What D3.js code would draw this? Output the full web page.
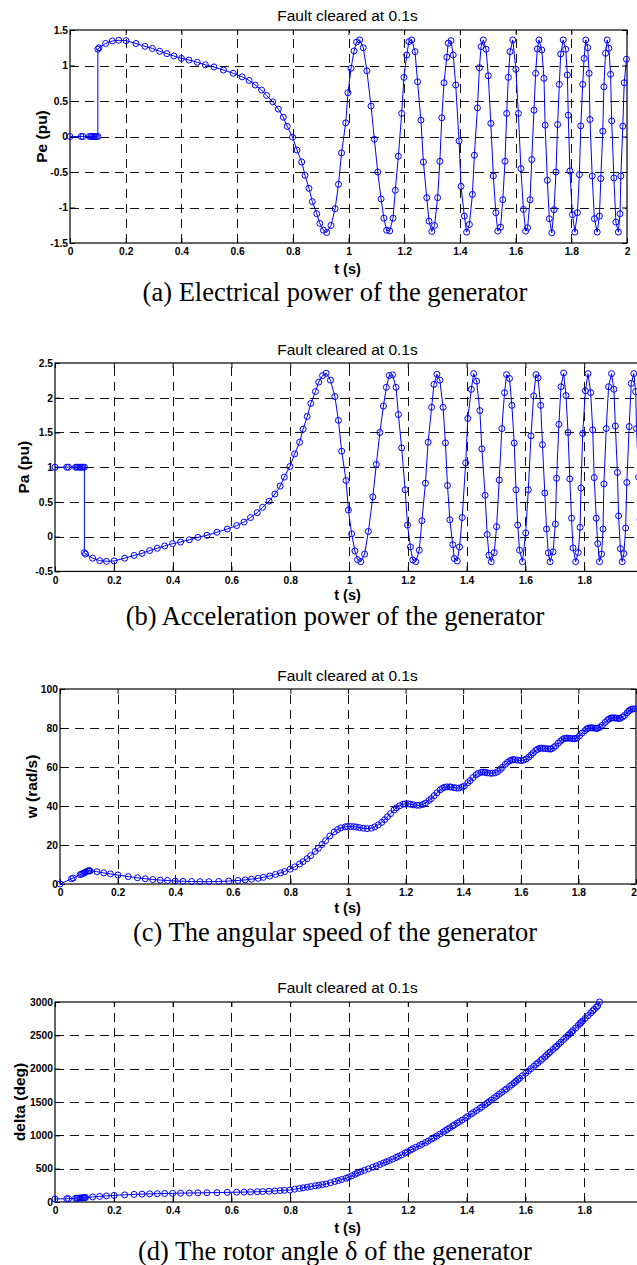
<!DOCTYPE html>
<html>
<head>
<meta charset="utf-8">
<script src="https://cdn.jsdelivr.net/npm/d3@7"></script>
<style>
body { margin: 0; background: #fff; }
svg { display: block; }
</style>
</head>
<body>
<script>
// time samples of the simulation (s), shared by the four plots
var tData = [
  0, 0.04, 0.046, 0.07, 0.075, 0.08, 0.085, 0.09, 0.095, 0.1,
  0.1, 0.104, 0.128, 0.152, 0.175, 0.201, 0.237, 0.269, 0.296, 0.322,
  0.348, 0.373, 0.4, 0.427, 0.457, 0.486, 0.517, 0.551, 0.586, 0.618,
  0.643, 0.665, 0.688, 0.706, 0.728, 0.748, 0.766, 0.78, 0.799, 0.815,
  0.832, 0.844, 0.858, 0.87, 0.886, 0.897, 0.91, 0.922, 0.937, 0.952,
  0.964, 0.975, 0.99, 0.998, 1.009, 1.02, 1.029, 1.04, 1.053, 1.066,
  1.081, 1.093, 1.105, 1.117, 1.127, 1.137, 1.148, 1.16, 1.168, 1.179,
  1.191, 1.199, 1.209, 1.217, 1.227, 1.239, 1.248, 1.26, 1.269, 1.281,
  1.289, 1.299, 1.309, 1.32, 1.328, 1.335, 1.343, 1.353, 1.358, 1.368,
  1.376, 1.385, 1.397, 1.404, 1.416, 1.424, 1.434, 1.445, 1.452, 1.463,
  1.47, 1.476, 1.484, 1.494, 1.502, 1.511, 1.52, 1.529, 1.536, 1.546,
  1.554, 1.562, 1.568, 1.574, 1.58, 1.59, 1.601, 1.61, 1.619, 1.628,
  1.636, 1.643, 1.652, 1.658, 1.666, 1.672, 1.678, 1.684, 1.694, 1.702,
  1.706, 1.714, 1.721, 1.73, 1.738, 1.745, 1.751, 1.757, 1.762, 1.771,
  1.78, 1.786, 1.789, 1.795, 1.804, 1.813, 1.822, 1.829, 1.834, 1.841,
  1.846, 1.852, 1.859, 1.864, 1.867, 1.875, 1.883, 1.893, 1.901, 1.906,
  1.913, 1.917, 1.923, 1.929, 1.935, 1.941, 1.945, 1.953, 1.96, 1.969,
  1.975, 1.978, 1.985, 1.99, 1.998
];

// (a) electrical power Pe (pu)
var peData = [
  0, 0, 0, 0, 0, 0, 0, 0, 0, 0,
  1.23, 1.25, 1.31, 1.345, 1.355, 1.35, 1.31, 1.27, 1.24, 1.2,
  1.167, 1.134, 1.1, 1.077, 1.045, 1.01, 0.98, 0.936, 0.89, 0.84,
  0.79, 0.725, 0.654, 0.578, 0.489, 0.386, 0.271, 0.143, -0.01, -0.19,
  -0.359, -0.547, -0.73, -0.917, -1.088, -1.225, -1.319, -1.352, -1.253, -1.017,
  -0.674, -0.231, 0.192, 0.616, 0.96, 1.205, 1.33, 1.36, 1.251, 0.925,
  0.428, -0.04, -0.5, -0.88, -1.15, -1.32, -1.33, -1.15, -0.758, -0.278,
  0.325, 0.833, 1.148, 1.336, 1.36, 1.195, 0.771, 0.23, -0.359, -0.862,
  -1.192, -1.338, -1.253, -0.862, -0.35, 0.263, 0.757, 1.116, 1.314, 1.35,
  1.148, 0.725, -0.062, -0.702, -1.121, -1.347, -1.239, -0.815, -0.264, 0.404,
  0.969, 1.266, 1.36, 1.229, 0.856, 0.184, -0.556, -1.073, -1.333, -1.277,
  -0.89, -0.349, 0.325, 0.833, 1.195, 1.36, 0.946, 0.325, -0.452, -1.027,
  -1.333, -1.285, -0.89, -0.325, 0.371, 0.89, 1.233, 1.36, 1.219, 0.819,
  0.16, -0.617, -1.158, -1.356, -1.031, -0.5, 0.169, 0.734, 1.162, 1.36,
  1.229, 0.866, 0.3, -0.486, -1.1, -1.347, -1.073, -0.537, 0.15, 0.734,
  1.1, 1.36, 1.251, 0.89, 0.24, -0.556, -1.158, -1.347, -1.121, -0.593,
  0.075, 0.7, 1.172, 1.36, 1.243, 0.876, 0.22, -0.585, -1.206, -1.347,
  -1.088, -0.556, 0.145, 0.757, 1.088
];

// (b) acceleration power Pa (pu)
var paData = [
  1, 1, 1, 1, 1, 1, 1, 1, 1, 1,
  -0.23, -0.25, -0.31, -0.345, -0.355, -0.35, -0.31, -0.27, -0.24, -0.2,
  -0.167, -0.134, -0.1, -0.077, -0.045, -0.01, 0.02, 0.064, 0.11, 0.16,
  0.21, 0.275, 0.346, 0.422, 0.511, 0.614, 0.729, 0.857, 1.01, 1.19,
  1.359, 1.547, 1.73, 1.917, 2.088, 2.225, 2.319, 2.352, 2.253, 2.017,
  1.674, 1.231, 0.808, 0.384, 0.04, -0.205, -0.33, -0.36, -0.251, 0.075,
  0.572, 1.04, 1.5, 1.88, 2.15, 2.32, 2.33, 2.15, 1.758, 1.278,
  0.675, 0.167, -0.148, -0.336, -0.36, -0.195, 0.229, 0.77, 1.359, 1.862,
  2.192, 2.338, 2.253, 1.862, 1.35, 0.737, 0.243, -0.116, -0.314, -0.35,
  -0.148, 0.275, 1.062, 1.702, 2.121, 2.347, 2.239, 1.815, 1.264, 0.596,
  0.031, -0.266, -0.36, -0.229, 0.144, 0.816, 1.556, 2.073, 2.333, 2.277,
  1.89, 1.349, 0.675, 0.167, -0.195, -0.36, 0.054, 0.675, 1.452, 2.027,
  2.333, 2.285, 1.89, 1.325, 0.629, 0.11, -0.233, -0.36, -0.219, 0.181,
  0.84, 1.617, 2.158, 2.356, 2.031, 1.5, 0.831, 0.266, -0.162, -0.36,
  -0.229, 0.134, 0.7, 1.486, 2.1, 2.347, 2.073, 1.537, 0.85, 0.266,
  -0.1, -0.36, -0.251, 0.11, 0.76, 1.556, 2.158, 2.347, 2.121, 1.593,
  0.925, 0.3, -0.172, -0.36, -0.243, 0.124, 0.78, 1.585, 2.206, 2.347,
  2.088, 1.556, 0.855, 0.243, -0.088
];

// (c) angular speed w (rad/s)
var wData = [
  0, 2.7, 3.1, 4.8, 5.1, 5.4, 5.8, 6.1, 6.5, 6.8,
  6.8, 6.7, 6.3, 5.7, 5.2, 4.6, 3.8, 3.2, 2.7, 2.3,
  2.0, 1.8, 1.5, 1.4, 1.3, 1.2, 1.2, 1.3, 1.5, 1.8,
  2.1, 2.5, 2.9, 3.4, 4.1, 4.9, 5.7, 6.4, 7.6, 8.8,
  10.3, 11.5, 13.0, 14.5, 16.7, 18.3, 20.3, 22.2, 24.6, 26.7,
  27.9, 28.8, 29.3, 29.5, 29.5, 29.4, 29.2, 28.9, 28.6, 28.4,
  28.6, 29.3, 30.3, 31.6, 33.0, 34.5, 36.1, 38.0, 39.0, 40.1,
  40.9, 41.1, 41.1, 40.9, 40.6, 40.4, 40.4, 40.8, 41.5, 42.8,
  43.8, 45.3, 46.8, 48.3, 49.1, 49.6, 49.8, 49.8, 49.7, 49.4,
  49.2, 49.2, 49.7, 50.3, 51.9, 53.0, 54.6, 56.0, 56.7, 57.3,
  57.4, 57.3, 57.0, 56.8, 56.8, 57.0, 57.7, 58.8, 59.8, 61.3,
  62.4, 63.2, 63.6, 63.8, 63.7, 63.5, 63.3, 63.5, 64.1, 65.1,
  66.2, 67.3, 68.5, 69.1, 69.6, 69.7, 69.6, 69.5, 69.3, 69.2,
  69.3, 70.0, 70.8, 72.2, 73.3, 74.1, 74.6, 74.8, 74.8, 74.7,
  74.5, 74.5, 74.6, 74.9, 76.0, 77.4, 78.6, 79.5, 79.9, 80.1,
  80.1, 80.0, 79.9, 79.8, 79.9, 80.4, 81.4, 82.9, 84.0, 84.6,
  85.1, 85.2, 85.2, 85.1, 85.0, 84.9, 85.0, 85.6, 86.4, 87.8,
  88.7, 89.1, 89.6, 89.8, 89.8
];

// (d) rotor angle delta (deg), shown only up to the 3000 deg limit
var deltaData = [
  46, 49, 50, 55.5, 57, 58.5, 60, 62, 63.5, 65.5,
  65.5, 67, 76, 84, 91, 99, 107, 114, 118, 122,
  125, 128, 130, 133, 135, 137, 139, 141, 144, 147,
  148, 151, 154, 157, 161, 166, 171, 175, 180, 192,
  204, 213, 223, 232, 244, 252, 261, 270, 289, 308,
  323, 337, 356, 370, 393, 415, 434, 455, 476, 498,
  522, 542, 563, 585, 603, 621, 643, 668, 684, 707,
  735, 754, 778, 798, 821, 846, 866, 891, 913, 944,
  964, 990, 1018, 1049, 1072, 1091, 1114, 1142, 1156, 1184,
  1206, 1230, 1263, 1284, 1320, 1344, 1373, 1405, 1426, 1460,
  1483, 1503, 1530, 1562, 1588, 1617, 1646, 1675, 1697, 1732,
  1760, 1789, 1811, 1834, 1856, 1894, 1933, 1966, 1999, 2033,
  2063, 2089, 2123, 2145, 2176, 2201, 2226, 2250, 2289, 2320,
  2336, 2370, 2400, 2438, 2471, 2500, 2524, 2550, 2571, 2610,
  2651, 2678, 2691, 2717, 2756, 2795, 2835, 2867, 2889, 2921,
  2943, 3000
];

// ticks
var xTicks = [0, 0.2, 0.4, 0.6, 0.8, 1, 1.2, 1.4, 1.6, 1.8, 2];
var peTicks = [-1.5, -1, -0.5, 0, 0.5, 1, 1.5];
var paTicks = [-0.5, 0, 0.5, 1, 1.5, 2, 2.5];
var wTicks = [0, 20, 40, 60, 80, 100];
var deltaTicks = [0, 500, 1000, 1500, 2000, 2500, 3000];

var titleText = "Fault cleared at 0.1s";
var xLabelText = "t (s)";

var W = 637, H = 1265;
var blue = "#0000ff";
var sans = "'Liberation Sans', Arial, sans-serif";
var serif = "'Liberation Serif', 'Times New Roman', serif";

var svg = d3.select("body").append("svg")
  .attr("width", W)
  .attr("height", H);

svg.append("rect").attr("width", W).attr("height", H).attr("fill", "#fff");

var panels = [
  { v: peData, yDomain: [-1.5, 1.5], yTicks: peTicks, yLabel: "Pe (pu)",
    left: 70, right: 627, top: 30, bottom: 243, yLabelX: 41.5,
    titleY: 20.5, xLabelY: 273.5, caption: "(a) Electrical power of the generator", captionY: 301 },
  { v: paData, yDomain: [-0.5, 2.5], yTicks: paTicks, yLabel: "Pa (pu)",
    left: 55, right: 643, top: 363, bottom: 571.4, yLabelX: 23.5,
    titleY: 355, xLabelY: 600, caption: "(b) Acceleration power of the generator", captionY: 625 },
  { v: wData, yDomain: [0, 100], yTicks: wTicks, yLabel: "w (rad/s)",
    left: 60, right: 636, top: 689, bottom: 884, yLabelX: 31.5,
    titleY: 680.5, xLabelY: 913, caption: "(c) The angular speed of the generator", captionY: 940.5 },
  { v: deltaData, yDomain: [0, 3000], yTicks: deltaTicks, yLabel: "delta (deg)",
    left: 55, right: 643, top: 1002, bottom: 1202, yLabelX: 19.5,
    titleY: 992.5, xLabelY: 1233, caption: "(d) The rotor angle \u03b4 of the generator", captionY: 1259.5 }
];

panels.forEach(drawPanel);

function drawPanel(p) {
  var g = svg.append("g");
  var x = d3.scaleLinear().domain([0, 2]).range([p.left, p.right]);
  var y = d3.scaleLinear().domain(p.yDomain).range([p.bottom, p.top]);
  var h = p.bottom - p.top, w = p.right - p.left;

  // dashed grid
  var gx = g.append("g")
    .attr("transform", "translate(0," + p.bottom + ")")
    .call(d3.axisBottom(x).tickValues(xTicks.slice(1, -1)).tickSize(-h).tickFormat(""));
  var gy = g.append("g")
    .attr("transform", "translate(" + p.left + ",0)")
    .call(d3.axisLeft(y).tickValues(p.yTicks.slice(1, -1)).tickSize(-w).tickFormat(""));
  [gx, gy].forEach(function(a) {
    a.select(".domain").remove();
    a.selectAll("line")
      .attr("stroke", "#111")
      .attr("stroke-width", 1)
      .attr("shape-rendering", "crispEdges")
      .attr("stroke-dasharray", "9,6");
  });

  // axes with inward ticks; labels only for ticks that fall inside the page
  var fmt = function(d) { return x(d) <= W ? String(d) : ""; };
  var bottomAx = g.append("g")
    .attr("transform", "translate(0," + p.bottom + ")")
    .call(d3.axisBottom(x).tickValues(xTicks).tickSize(-5).tickPadding(5).tickFormat(fmt));
  var leftAx = g.append("g")
    .attr("transform", "translate(" + p.left + ",0)")
    .call(d3.axisLeft(y).tickValues(p.yTicks).tickSize(-5).tickPadding(2).tickFormat(String));
  var topAx = g.append("g")
    .attr("transform", "translate(0," + p.top + ")")
    .call(d3.axisTop(x).tickValues(xTicks).tickSize(-5).tickFormat(""));
  var rightAx = g.append("g")
    .attr("transform", "translate(" + p.right + ",0)")
    .call(d3.axisRight(y).tickValues(p.yTicks).tickSize(-5).tickFormat(""));
  [bottomAx, leftAx, topAx, rightAx].forEach(function(a) {
    a.select(".domain").remove();
    a.selectAll("line").attr("stroke", "#000").attr("stroke-width", 1);
    a.selectAll("text")
      .attr("fill", "#000")
      .style("font-family", sans)
      .style("font-weight", "bold")
      .style("font-size", "10.3px");
  });
  // a label sitting right at the page edge is pulled in so it stays whole
  bottomAx.selectAll(".tick")
    .filter(function(d) { return x(d) <= W && x(d) + 4 > W; })
    .select("text")
    .attr("text-anchor", "end")
    .attr("x", function(d) { return W - 0.5 - x(d); });

  // box
  g.append("rect")
    .attr("x", p.left).attr("y", p.top)
    .attr("width", w).attr("height", h)
    .attr("fill", "none")
    .attr("stroke", "#000")
    .attr("stroke-width", 1.2);

  // data
  var pts = p.v.map(function(v, i) { return [tData[i], v]; });
  var line = d3.line()
    .x(function(d) { return x(d[0]); })
    .y(function(d) { return y(d[1]); });

  g.append("path")
    .datum(pts)
    .attr("d", line)
    .attr("fill", "none")
    .attr("stroke", blue)
    .attr("stroke-width", 1);

  g.selectAll(".mk")
    .data(pts)
    .enter().append("circle")
    .attr("class", "mk")
    .attr("cx", function(d) { return x(d[0]); })
    .attr("cy", function(d) { return y(d[1]); })
    .attr("r", 3)
    .attr("fill", "none")
    .attr("stroke", blue)
    .attr("stroke-width", 1);

  // texts
  g.append("text")
    .attr("x", 347.5).attr("y", p.titleY)
    .attr("text-anchor", "middle")
    .style("font-family", sans)
    .style("font-size", "15.5px")
    .text(titleText);

  g.append("text")
    .attr("x", 347.5).attr("y", p.xLabelY)
    .attr("text-anchor", "middle")
    .style("font-family", sans)
    .style("font-weight", "bold")
    .style("font-size", "14.5px")
    .text(xLabelText);

  g.append("text")
    .attr("transform", "translate(" + p.yLabelX + "," + (p.top + h / 2) + ")rotate(-90)")
    .attr("text-anchor", "middle")
    .attr("dy", "0.35em")
    .style("font-family", sans)
    .style("font-weight", "bold")
    .style("font-size", "15.5px")
    .text(p.yLabel);

  g.append("text")
    .attr("x", 335).attr("y", p.captionY)
    .attr("text-anchor", "middle")
    .style("font-family", serif)
    .style("font-size", "26.5px")
    .text(p.caption);
}
</script>
</body>
</html>
